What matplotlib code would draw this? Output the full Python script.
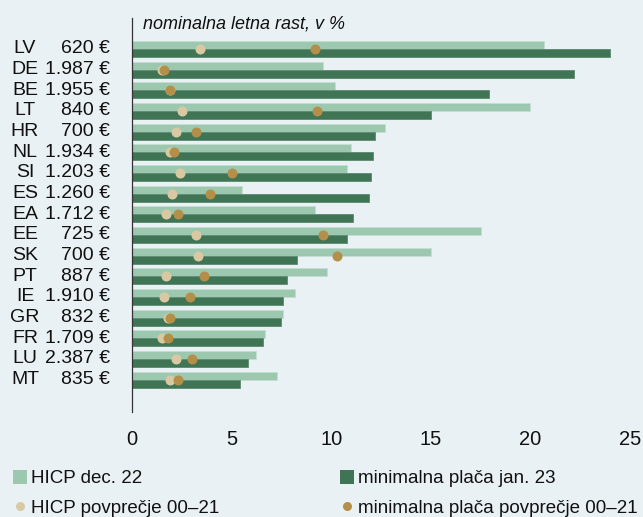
import matplotlib
matplotlib.use('Agg')
import matplotlib.pyplot as plt
from matplotlib.lines import Line2D

# Arial-metric font; the original uses a narrow Arial, so sizes are tuned to widths
plt.rcParams['font.family'] = ['Liberation Sans', 'DejaVu Sans']

countries = ['LV', 'DE', 'BE', 'LT', 'HR', 'NL', 'SI', 'ES', 'EA',
             'EE', 'SK', 'PT', 'IE', 'GR', 'FR', 'LU', 'MT']
min_wage = ['620 €', '1.987 €', '1.955 €', '840 €', '700 €', '1.934 €',
            '1.203 €', '1.260 €', '1.712 €', '725 €', '700 €', '887 €',
            '1.910 €', '832 €', '1.709 €', '2.387 €', '835 €']
hicp_dec22 = [20.7, 9.6, 10.2, 20.0, 12.7, 11.0, 10.8, 5.5, 9.2,
              17.5, 15.0, 9.8, 8.2, 7.6, 6.7, 6.2, 7.3]
mw_jan23 = [24.0, 22.2, 17.9, 15.0, 12.2, 12.1, 12.0, 11.9, 11.1,
            10.8, 8.3, 7.8, 7.6, 7.5, 6.6, 5.8, 5.4]
hicp_avg = [3.4, 1.5, 1.9, 2.5, 2.2, 1.9, 2.4, 2.0, 1.7,
            3.2, 3.3, 1.7, 1.6, 1.8, 1.5, 2.2, 1.9]
mw_avg = [9.2, 1.6, 1.9, 9.3, 3.2, 2.1, 5.0, 3.9, 2.3,
          9.6, 10.3, 3.6, 2.9, 1.9, 1.8, 3.0, 2.3]

labels = ['HICP dec. 22', 'minimalna plača jan. 23',
          'HICP povprečje 00–21', 'minimalna plača povprečje 00–21']

BG = '#eaf1f5'
C_LIGHT = '#9dc8b0'
C_DARK = '#3f7455'
C_BEIGE = '#d9c9a3'
C_GOLD = '#b38f4a'
TXT = '#111111'

W, H = 643, 517
fig = plt.figure(figsize=(W / 100, H / 100), dpi=100, facecolor=BG)
ax = fig.add_axes([132 / W, 1 - 412 / H, 498 / W, 394 / H], facecolor=BG)

y = list(range(len(countries)))
h = 0.39
ax.barh([i - h / 2 for i in y], hicp_dec22, height=h, color=C_LIGHT,
        edgecolor='#c3dfcf', linewidth=0.6, zorder=2)
ax.barh([i + h / 2 for i in y], mw_jan23, height=h, color=C_DARK,
        edgecolor='#5d8a70', linewidth=0.6, zorder=2)
ax.scatter(hicp_avg, y, s=52, color=C_BEIGE, linewidths=0, zorder=3)
ax.scatter(mw_avg, y, s=52, color=C_GOLD, linewidths=0, zorder=4)

ax.set_xlim(0, 25)
ax.set_ylim(17.57, -1.5)
ax.set_xticks([0, 5, 10, 15, 20, 25])
ax.tick_params(axis='x', length=0, pad=13, labelsize=14.5, colors=TXT)
ax.set_yticks([])
for s in ['top', 'right', 'bottom']:
    ax.spines[s].set_visible(False)
ax.spines['left'].set_color('#333333')
ax.spines['left'].set_linewidth(0.9)

# country code + minimum wage on the left
tr = ax.get_yaxis_transform()
for i, (c, mw) in enumerate(zip(countries, min_wage)):
    ax.text((25 - 132) / 498, i, c, transform=tr, ha='center', va='center',
            fontsize=14, color=TXT, clip_on=False)
    ax.text((110 - 132) / 498, i, mw, transform=tr, ha='right', va='center',
            fontsize=14, color=TXT, clip_on=False)

ax.text(0.022, 0.985, 'nominalna letna rast, v %', transform=ax.transAxes,
        ha='left', va='center', fontsize=13, style='italic', color=TXT)

def handle(kind, color):
    if kind == 'bar':
        return Line2D([], [], marker='s', markersize=9.4, linestyle='none',
                      markerfacecolor=color, markeredgewidth=0)
    return Line2D([], [], marker='o', markersize=6.5, linestyle='none',
                  markerfacecolor=color, markeredgewidth=0)

leg_kw = dict(loc='upper left', frameon=False, fontsize=13.5, handlelength=0.85,
              handletextpad=0.15, borderpad=0, borderaxespad=0,
              labelspacing=0.68, labelcolor=TXT)
fig.legend([handle('bar', C_LIGHT), handle('dot', C_BEIGE)],
           [labels[0], labels[2]], bbox_to_anchor=(12.5 / W, 1 - 470 / H), **leg_kw)
fig.legend([handle('bar', C_DARK), handle('dot', C_GOLD)],
           [labels[1], labels[3]], bbox_to_anchor=(339 / W, 1 - 470 / H), **leg_kw)

fig.savefig('out.png', dpi=100, facecolor=BG)
